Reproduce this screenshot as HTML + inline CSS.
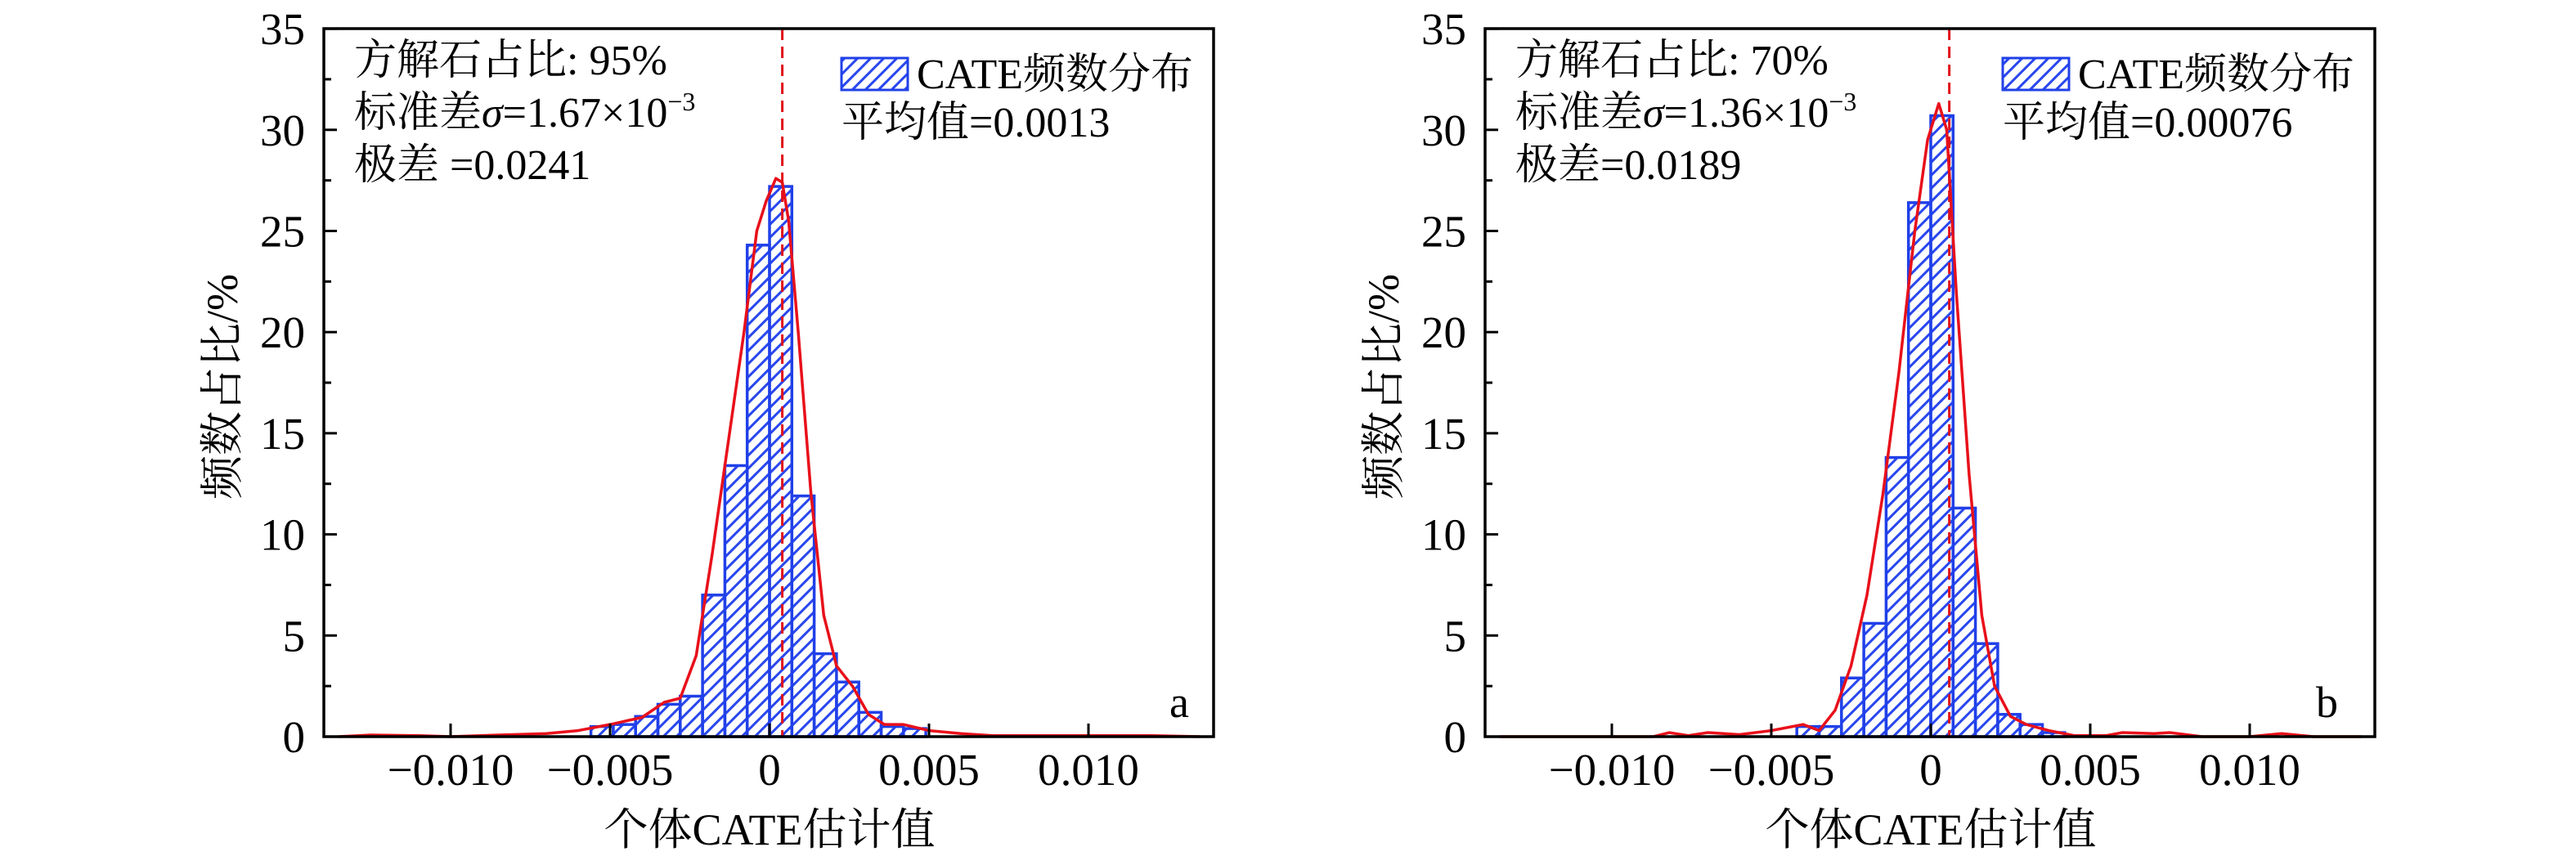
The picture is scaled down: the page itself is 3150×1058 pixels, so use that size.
<!DOCTYPE html>
<html><head><meta charset="utf-8"><style>
html,body{margin:0;padding:0;background:#fff;}
svg text{font-family:"Liberation Serif","Noto Serif CJK SC","Noto Sans CJK SC",serif;fill:#000;}
</style></head><body>
<svg id="s" width="3150" height="1053" xmlns="http://www.w3.org/2000/svg">
<defs>
<pattern id="h" patternUnits="userSpaceOnUse" width="16" height="16">
<line x1="-4" y1="20" x2="20" y2="-4" stroke="#2846ee" stroke-width="3"/>
<line x1="-4" y1="4" x2="4" y2="-4" stroke="#2846ee" stroke-width="3"/>
<line x1="12" y1="20" x2="20" y2="12" stroke="#2846ee" stroke-width="3"/>
</pattern>
</defs>
</svg>
<script>
const S=document.getElementById('s');
const NS='http://www.w3.org/2000/svg';
function el(t,a,txt){const e=document.createElementNS(NS,t);for(const k in a)e.setAttribute(k,a[k]);if(txt!==undefined)e.innerHTML=txt;S.appendChild(e);return e;}
const L=396,R=1484,T=35,B=901;
function panel(dx,o){
 const X=v=>dx+941+v*39.0, Y=p=>B-p*24.74;
 o.bars.forEach((h,i)=>{const k=o.k0+i;const x0=X(k*0.7),x1=X((k+1)*0.7);
  el('rect',{x:x0,y:Y(h),width:x1-x0,height:B-Y(h),fill:'url(#h)',stroke:'#2040e8','stroke-width':3.5});});
 el('polyline',{points:o.curve.map(p=>X(p[0])+','+Y(p[1])).join(' '),fill:'none',stroke:'#e8101a','stroke-width':3.5,'stroke-linejoin':'round'});
 el('line',{x1:X(o.mean),x2:X(o.mean),y1:T,y2:B,stroke:'#e0101a','stroke-width':3,'stroke-dasharray':'14,8'});
 el('rect',{x:dx+L,y:T,width:R-L,height:B-T,fill:'none',stroke:'#000','stroke-width':3.5});
 for(let p=0;p<=35;p+=2.5){const y=Y(p);const maj=p%5==0;
  el('line',{x1:dx+L,x2:dx+L+(maj?16:9),y1:y,y2:y,stroke:'#000','stroke-width':3});
  if(maj)el('text',{x:dx+373,y:y+19,'text-anchor':'end','font-size':55},p);}
 [[-10,'−0.010'],[-5,'−0.005'],[0,'0'],[5,'0.005'],[10,'0.010']].forEach(([v,t])=>{
  el('line',{x1:X(v),x2:X(v),y1:B,y2:B-16,stroke:'#000','stroke-width':3});
  el('text',{x:X(v),y:960,'text-anchor':'middle','font-size':55},t);});
 el('text',{x:dx+941,y:1033,'text-anchor':'middle','font-size':54},'个体CATE估计值');
 el('text',{x:0,y:0,'text-anchor':'middle','font-size':54,transform:`translate(${dx+290},473) rotate(-90)`},'频数占比/%');
 el('text',{x:dx+433,y:91,'font-size':52},o.t1);
 el('text',{x:dx+433,y:155,'font-size':52},o.t2);
 el('text',{x:dx+433,y:219,'font-size':52},o.t3);
 el('rect',{x:dx+1029,y:71,width:81,height:39,fill:'url(#h)',stroke:'#2040e8','stroke-width':3});
 el('text',{x:dx+1121,y:108,'font-size':52},'CATE频数分布');
 el('text',{x:dx+1029,y:167,'font-size':52},o.t4);
 el('text',{x:dx+o.lx,y:877,'font-size':54},o.lab);
}
panel(0,{k0:-8,bars:[0.5,0.6,1.0,1.6,2.0,7.0,13.4,24.3,27.2,11.9,4.1,2.7,1.2,0.5,0.4],mean:0.4,
 curve:[[-13.5,0],[-12.5,0.08],[-11,0.05],[-10,0],[-8.5,0.08],[-7,0.15],[-6,0.3],[-5,0.6],[-4,0.95],[-3.3,1.7],[-2.8,1.9],[-2.3,4],[-1.8,9],[-1.3,14.5],[-0.8,20],[-0.4,25],[-0.1,26.5],[0.2,27.6],[0.4,27.4],[0.6,25.5],[0.9,20],[1.3,12],[1.7,6],[2.1,3.5],[2.6,2.5],[3.1,1.1],[3.6,0.6],[4.2,0.6],[5,0.3],[6,0.15],[7,0.05],[9,0.05],[12,0.05],[13.5,0]],
 t1:'方解石占比: 95%',t2:'标准差<tspan font-style="italic">σ</tspan>=1.67×10<tspan dy="-20" font-size="32">−3</tspan>',t3:'极差 =0.0241',t4:'平均值=0.0013',lab:'a',lx:1430});
panel(1420,{k0:-6,bars:[0.5,0.5,2.9,5.6,13.8,26.4,30.7,11.3,4.6,1.1,0.6,0.2],mean:0.58,
 curve:[[-13.5,0],[-8.7,0],[-8.2,0.2],[-7.6,0.05],[-7,0.2],[-6,0.1],[-5,0.3],[-4,0.6],[-3.5,0.3],[-3,1.3],[-2.5,3.5],[-2,7],[-1.5,12],[-1,18],[-0.5,25],[-0.1,29.5],[0.25,31.3],[0.5,30],[0.8,22],[1.2,13],[1.6,6],[2,2.5],[2.5,1],[3,0.6],[3.7,0.3],[4.5,0.05],[5.5,0.05],[6,0.2],[7,0.15],[7.5,0.2],[8.5,0],[10,0],[11,0.15],[12,0],[13.5,0]],
 t1:'方解石占比: 70%',t2:'标准差<tspan font-style="italic">σ</tspan>=1.36×10<tspan dy="-20" font-size="32">−3</tspan>',t3:'极差=0.0189',t4:'平均值=0.00076',lab:'b',lx:1412});
</script>
</body></html>
